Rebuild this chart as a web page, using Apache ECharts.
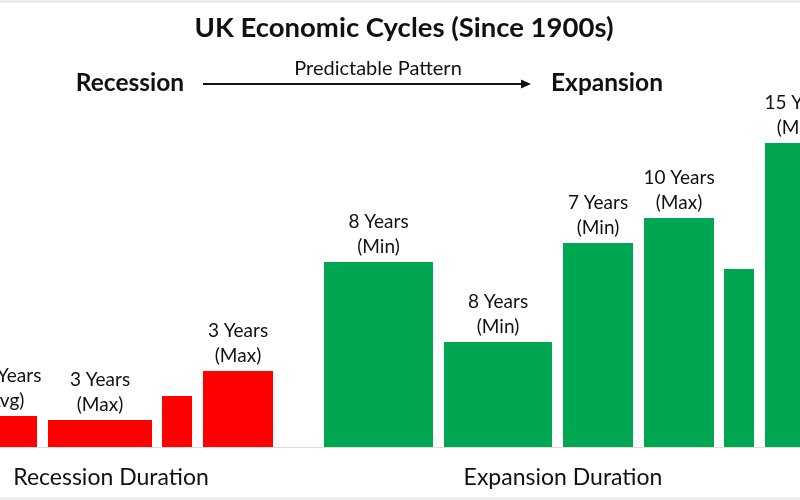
<!DOCTYPE html>
<html>
<head>
<meta charset="utf-8">
<script src="https://cdn.jsdelivr.net/npm/echarts@6/dist/echarts.min.js"></script>
<style>html,body{margin:0;padding:0;background:#fff}#c{width:800px;height:500px}</style>
</head>
<body>
<div id="c"></div>
<script>
// Data (arbitrary scale units)
const phases = ['Recession','Recession','Recession','Recession','Expansion','Expansion','Expansion','Expansion','Expansion','Expansion'];
const spanStart = [-30, 48, 162, 203, 324, 444, 563, 644, 724, 765];
const spanEnd   = [37, 152, 192, 273, 433, 552, 633, 714, 754, 835];
const heights   = [31, 27, 51, 76, 185, 105, 204, 229, 178, 304];
const barLabels = ['1.5 Years\n(Avg)', '3 Years\n(Max)', '', '3 Years\n(Max)', '8 Years\n(Min)', '8 Years\n(Min)', '7 Years\n(Min)', '10 Years\n(Max)', '', '15 Years\n(Max)'];
const groupNames = ['Recession Duration', 'Expansion Duration'];
const groupCenters = [111, 563];

const FONT = 'Lato, "Open Sans", sans-serif';
const colors = { Recession: '#ff0000', Expansion: '#00a651' };

const chart = echarts.init(document.getElementById('c'), null, { renderer: 'canvas' });
const data = phases.map((p, i) => [spanStart[i], spanEnd[i], heights[i], i]);

chart.setOption({
  animation: false,
  backgroundColor: '#ffffff',
  grid: { left: 0, right: 0, top: 127, bottom: 53 },
  xAxis: { type: 'value', min: 0, max: 800, show: false },
  yAxis: { type: 'value', min: 0, max: 320, show: false },
  series: [{
    type: 'custom',
    clip: false,
    data: data,
    renderItem: function (params, api) {
      const i = api.value(3);
      const tl = api.coord([api.value(0), api.value(2)]);
      const br = api.coord([api.value(1), 0]);
      const children = [{
        type: 'rect',
        shape: { x: tl[0], y: tl[1], width: br[0] - tl[0], height: br[1] - tl[1] },
        style: { fill: colors[phases[i]] }
      }];
      if (barLabels[i]) {
        children.push({
          type: 'text',
          style: {
            text: barLabels[i], x: (tl[0] + br[0]) / 2, y: tl[1] - 3,
            align: 'center', verticalAlign: 'bottom',
            font: '19px ' + FONT, fill: '#111', lineHeight: 25
          }
        });
      }
      return { type: 'group', children: children };
    }
  }, {
    type: 'custom',
    clip: false,
    data: groupNames.map((n, i) => [groupCenters[i], 0, i]),
    renderItem: function (params, api) {
      const p = api.coord([api.value(0), api.value(1)]);
      return {
        type: 'text',
        style: { text: groupNames[api.value(2)], x: p[0], y: p[1] + 31, align: 'center', verticalAlign: 'middle', font: '23px ' + FONT, fill: '#111' }
      };
    }
  }],
  graphic: [
    { type: 'line', shape: { x1: 0, y1: 447.5, x2: 800, y2: 447.5 }, style: { stroke: '#dcdcdc', lineWidth: 1 }, z: -1 },
    { type: 'line', shape: { x1: 0, y1: 1.5, x2: 800, y2: 1.5 }, style: { stroke: '#e6e6e6', lineWidth: 2 } },
    { type: 'line', shape: { x1: 0, y1: 498.5, x2: 800, y2: 498.5 }, style: { stroke: '#e6e6e6', lineWidth: 2 } },
    { type: 'text', style: { text: 'UK Economic Cycles (Since 1900s)', x: 404, y: 28, align: 'center', verticalAlign: 'middle', font: 'bold 27.5px ' + FONT, fill: '#111' } },
    { type: 'text', style: { text: 'Recession', x: 130, y: 83, align: 'center', verticalAlign: 'middle', font: 'bold 24.5px ' + FONT, fill: '#111' } },
    { type: 'text', style: { text: 'Expansion', x: 607, y: 83, align: 'center', verticalAlign: 'middle', font: 'bold 24.5px ' + FONT, fill: '#111' } },
    { type: 'text', style: { text: 'Predictable Pattern', x: 378, y: 69, align: 'center', verticalAlign: 'middle', font: '20px ' + FONT, fill: '#111' } },
    { type: 'line', shape: { x1: 203, y1: 84, x2: 524, y2: 84 }, style: { stroke: '#111', lineWidth: 2 } },
    { type: 'polygon', shape: { points: [[521, 79.5], [531, 84], [521, 88.5]] }, style: { fill: '#111' } }
  ]
});
</script>
</body>
</html>
